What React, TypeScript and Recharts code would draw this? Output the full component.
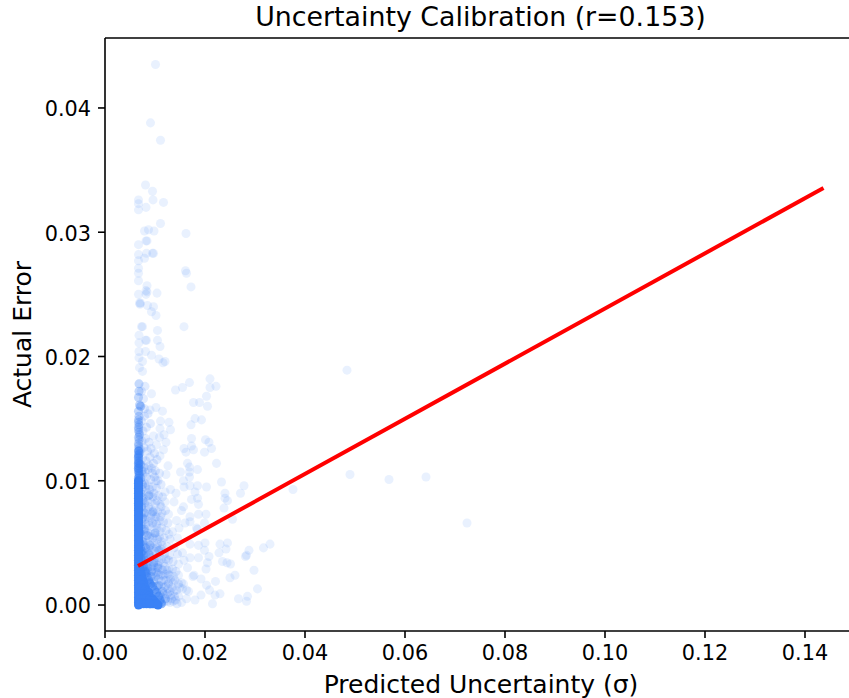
import { ScatterChart, Scatter, XAxis, YAxis, ZAxis, Label, ReferenceLine } from 'recharts'

type Pair = [number, number]

const xTicks = [0, 0.02, 0.04, 0.06, 0.08, 0.1, 0.12, 0.14]
const yTicks = [0, 0.01, 0.02, 0.03, 0.04]

// isolated points
const sparsePairs: Pair[] = [
  [.0101,.0435],[.0091,.0388],[.0111,.0374],[.0081,.0338],[.0095,.0333],[.0067,.0326],[.0067,.0323],[.0096,.0326],
  [.0117,.0324],[.0067,.0318],[.0082,.0320],[.0111,.0307],[.0087,.0302],[.0079,.0301],[.0098,.0301],[.0162,.0299],
  [.0082,.0293],[.0084,.0293],[.0067,.0290],[.0067,.0282],[.0083,.0283],[.0095,.0283],[.0097,.0283],[.0079,.0279],[.0067,.0277],
  [.0067,.0271],[.0067,.0267],[.0161,.0269],[.0163,.0267],[.0067,.0261],[.0084,.0257],[.0172,.0256],[.0067,.0250],
  [.0082,.0253],[.0082,.0250],[.0084,.0252],[.0104,.0251],[.0069,.0243],[.0071,.0243],[.0070,.0242],[.0085,.0241],[.0097,.0240],
  [.0093,.0236],[.0102,.0233],[.0073,.0224],[.0075,.0224],[.0158,.0224],[.0105,.0221],[.0068,.0217],[.0081,.0213],[.0083,.0213],
  [.0105,.0213],[.0068,.0211],[.0110,.0208],[.0068,.0204],[.0081,.0204],[.0093,.0201],[.0068,.0199],[.0108,.0198],
  [.0120,.0196],[.0116,.0195],[.0075,.0196],[.0069,.0191],[.0075,.0188],[.0210,.0182],[.0169,.0179],[.0155,.0175],[.0222,.0176],
  [.0210,.0175],[.0141,.0173],[.0203,.0168],[.0093,.0170],[.0177,.0163],[.0189,.0163],[.0205,.0160],[.0102,.0159],
  [.0115,.0156],[.0090,.0157],[.0180,.0150],[.0193,.0149],[.0111,.0148],[.0128,.0147],[.0172,.0145],[.0110,.0142],
  [.0131,.0141],[.0097,.0136],[.0118,.0137],[.0109,.0135],[.0173,.0134],[.0201,.0133],[.0208,.0131],[.0122,.0131],
  [.0173,.0128],[.0158,.0126],[.0177,.0125],[.0213,.0126],[.0162,.0123],[.0199,.0123],[.0103,.0129],[.0117,.0125],
  [.0110,.0120],[.0165,.0114],[.0223,.0114],[.0126,.0112],[.0185,.0109],[.0169,.0111],[.0151,.0107],[.0169,.0107],
  [.0122,.0105],[.0169,.0103],[.0157,.0100],[.0233,.0099],[.0278,.0096],[.0158,.0095],[.0170,.0096],[.0185,.0096],
  [.0203,.0095],[.0376,.0093],[.0120,.0091],[.0131,.0093],[.0142,.0090],[.0240,.0090],[.0271,.0090],[.0180,.0091],
  [.0240,.0086],[.0245,.0084],[.0185,.0086],[.0173,.0085],[.0120,.0083],[.0138,.0083],[.0187,.0081],[.0157,.0079],
  [.0238,.0078],[.0153,.0076],[.0127,.0073],[.0187,.0073],[.0170,.0071],[.0202,.0073],[.0255,.0069],[.0143,.0068],
  [.0160,.0066],[.0199,.0066],[.0170,.0067],[.0183,.0062],[.0185,.0061],[.0148,.0062],[.0135,.0059],[.0128,.0057],[.0110,.0059],
  [.0145,.0054],[.0170,.0049],[.0200,.0050],[.0230,.0049],[.0245,.0050],[.0330,.0049],[.0317,.0046],[.0187,.0048],
  [.0199,.0044],[.0242,.0045],[.0228,.0042],[.0288,.0044],[.0283,.0040],[.0281,.0039],[.0208,.0039],[.0155,.0042],
  [.0170,.0038],[.0187,.0038],[.0158,.0036],[.0235,.0035],[.0244,.0034],[.0251,.0033],[.0147,.0033],[.0205,.0034],
  [.0128,.0029],[.0298,.0028],[.0202,.0029],[.0165,.0030],[.0147,.0024],[.0176,.0023],[.0178,.0024],[.0137,.0023],[.0260,.0024],
  [.0250,.0022],[.0221,.0019],[.0192,.0021],[.0127,.0018],[.0157,.0017],[.0153,.0018],[.0203,.0016],[.0305,.0013],[.0150,.0014],
  [.0167,.0011],[.0163,.0012],[.0155,.0013],[.0209,.0012],[.0230,.0009],[.0220,.0008],[.0192,.0008],[.0285,.0007],[.0267,.0005],[.0283,.0003],
  [.0180,.0004],[.0215,.0001],[.0153,.0002],[.0130,.0002],[.0163,.0005],[.0484,.0189],[.0490,.0105],[.0568,.0101],
  [.0642,.0103],[.0724,.0066],
]

// the cloud right of the column, still single points but overlapping a lot
const cloudPairs: Pair[] = [
  [.0075,.0118],[.0082,.0116],[.0090,.0119],[.0097,.0114],[.0104,.0117],[.0078,.0111],[.0086,.0109],[.0093,.0110],
  [.0101,.0108],[.0109,.0106],[.0076,.0105],[.0083,.0103],[.0091,.0101],[.0099,.0103],[.0106,.0100],[.0112,.0097],
  [.0079,.0098],[.0087,.0096],[.0095,.0095],[.0103,.0094],[.0074,.0093],[.0082,.0091],[.0090,.0089],[.0098,.0090],
  [.0107,.0088],[.0115,.0087],[.0077,.0086],[.0085,.0084],[.0093,.0083],[.0101,.0082],[.0110,.0081],[.0074,.0080],
  [.0081,.0078],[.0089,.0077],[.0097,.0076],[.0105,.0075],[.0114,.0074],[.0121,.0076],[.0077,.0073],[.0084,.0071],
  [.0092,.0070],[.0100,.0069],[.0109,.0068],[.0117,.0067],[.0126,.0066],[.0074,.0067],[.0081,.0065],[.0088,.0064],
  [.0096,.0063],[.0104,.0062],[.0113,.0062],[.0122,.0060],[.0077,.0060],[.0085,.0058],[.0092,.0057],[.0101,.0056],
  [.0109,.0055],[.0118,.0054],[.0130,.0053],[.0074,.0054],[.0081,.0052],[.0089,.0051],[.0097,.0050],[.0105,.0049],
  [.0114,.0048],[.0124,.0047],[.0138,.0046],[.0077,.0047],[.0084,.0045],[.0092,.0044],[.0100,.0043],[.0110,.0042],
  [.0119,.0041],[.0129,.0040],[.0145,.0041],[.0076,.0041],[.0083,.0039],[.0091,.0038],[.0099,.0036],[.0108,.0035],
  [.0117,.0034],[.0127,.0036],[.0136,.0035],[.0086,.0033],[.0094,.0031],[.0103,.0030],[.0112,.0029],[.0120,.0031],
  [.0135,.0029],[.0142,.0027],[.0098,.0026],[.0107,.0025],[.0116,.0024],[.0126,.0025],[.0131,.0021],[.0122,.0020],
  [.0113,.0019],[.0140,.0020],[.0147,.0017],[.0118,.0014],[.0126,.0013],[.0134,.0014],[.0143,.0012],[.0122,.0008],
  [.0131,.0008],[.0139,.0007],[.0147,.0007],[.0125,.0003],[.0136,.0003],[.0144,.0001],
  [.0072,.0125],[.0078,.0127],[.0085,.0124],[.0092,.0126],[.0099,.0122],[.0074,.0132],[.0081,.0134],[.0088,.0131],
  [.0076,.0140],[.0083,.0143],[.0091,.0146],[.0073,.0148],[.0079,.0152],[.0086,.0154],[.0072,.0160],[.0079,.0158],
  [.0077,.0166],[.0073,.0172],[.0080,.0176],
  [.0072,.0113],[.0080,.0107],[.0088,.0112],[.0095,.0106],[.0102,.0100],[.0073,.0099],[.0081,.0095],[.0089,.0093],
  [.0096,.0087],[.0104,.0084],[.0112,.0079],[.0073,.0087],[.0079,.0082],[.0087,.0079],[.0094,.0073],[.0102,.0071],
  [.0111,.0071],[.0073,.0074],[.0080,.0069],[.0087,.0067],[.0095,.0066],[.0103,.0065],[.0073,.0062],[.0081,.0059],
  [.0089,.0055],[.0096,.0054],[.0105,.0053],[.0113,.0051],[.0074,.0051],[.0080,.0048],[.0088,.0046],[.0096,.0046],
  [.0103,.0046],[.0112,.0045],[.0075,.0043],[.0082,.0042],[.0089,.0040],[.0096,.0039],[.0104,.0038],[.0113,.0037],
  [.0122,.0037],[.0090,.0034],[.0098,.0032],[.0106,.0032],[.0115,.0028],[.0124,.0028],[.0095,.0029],[.0103,.0026],
  [.0111,.0024],[.0120,.0025],[.0129,.0024],[.0107,.0021],[.0117,.0020],[.0127,.0017],[.0136,.0018],[.0112,.0015],
  [.0121,.0015],[.0130,.0011],[.0138,.0011],[.0116,.0009],[.0125,.0009],[.0133,.0005],[.0141,.0004],[.0119,.0003],
]

// the edge of the column where overlaps build up but stay see-through
const densePairs: Pair[] = [
  [.0068,.0178],[.0068,.0172],[.0067,.0167],[.0069,.0161],[.0071,.0160],[.0067,.0156],[.0068,.0152],[.0067,.0149],
  [.0068,.0145],[.0067,.0141],[.0069,.0137],[.0068,.0133],[.0067,.0130],[.0068,.0126],[.0069,.0122],[.0067,.0118],
  [.0068,.0114],[.0067,.0110],[.0071,.0113],[.0074,.0108],[.0072,.0102],[.0075,.0097],[.0072,.0090],[.0076,.0084],
  [.0073,.0079],[.0079,.0074],[.0075,.0070],[.0072,.0064],[.0079,.0061],[.0084,.0056],[.0076,.0051],[.0081,.0046],
  [.0088,.0041],[.0079,.0036],[.0085,.0030],[.0093,.0027],[.0101,.0023],[.0107,.0016],[.0115,.0011],[.0121,.0005],
  [.0098,.0034],[.0106,.0030],[.0090,.0048],[.0100,.0058],[.0108,.0044],[.0088,.0088],[.0096,.0075],[.0112,.0002],
  [.0074,.0043],[.0078,.0040],[.0082,.0033],[.0086,.0027],[.0092,.0023],[.0098,.0019],[.0104,.0015],[.0110,.0008],
  [.0067,.0147],[.0067,.0143],[.0068,.0139],[.0067,.0135],[.0067,.0128],[.0068,.0124],
]

// top of the solid column and rim of the solid foot, nearly opaque but not quite
const fadePairs: Pair[] = [
  [.0067,.0124],[.0067,.0121],[.0067,.0119],[.0067,.0116],[.0067,.0114],[.0067,.0112],[.0067,.0110],[.0067,.0108],
  [.0068,.0106],[.0068,.0104],[.0067,.0102],[.0070,.0058],[.0070,.0050],[.0071,.0046],[.0072,.0042],
  [.0074,.0036],[.0077,.0031],[.0080,.0027],[.0084,.0023],[.0087,.0020],[.0091,.0017],[.0095,.0015],[.0099,.0012],
  [.0103,.0010],[.0107,.0007],[.0110,.0004],[.0113,.0001],[.0072,.0038],[.0076,.0029],[.0082,.0026],[.0089,.0018],
]

// opaque part: everything overlaps until nothing shows through
const corePairs: Pair[] = [
  [.0067,.0100],[.0067,.0098],[.0067,.0096],[.0067,.0094],[.0067,.0092],[.0067,.0090],[.0067,.0088],[.0067,.0086],
  [.0067,.0084],[.0067,.0082],[.0067,.0080],[.0067,.0078],[.0067,.0076],[.0067,.0074],[.0067,.0072],[.0067,.0070],
  [.0067,.0068],[.0067,.0066],[.0067,.0064],[.0067,.0062],[.0067,.0060],[.0067,.0058],[.0067,.0056],[.0067,.0054],
  [.0067,.0052],[.0067,.0050],[.0067,.0048],[.0067,.0046],[.0067,.0044],[.0067,.0042],[.0067,.0040],[.0067,.0038],
  [.0067,.0036],[.0067,.0034],[.0067,.0032],[.0067,.0030],[.0067,.0028],[.0067,.0026],[.0067,.0024],[.0067,.0022],
  [.0067,.0020],[.0067,.0018],[.0067,.0016],[.0067,.0014],[.0067,.0012],[.0067,.0010],[.0067,.0008],[.0067,.0006],
  [.0067,.0004],[.0067,.0002],[.0067,.0000],
  [.0069,.0032],[.0071,.0028],[.0073,.0024],[.0075,.0021],[.0078,.0018],[.0071,.0020],[.0074,.0016],[.0081,.0014],
  [.0071,.0014],[.0075,.0013],[.0079,.0012],[.0084,.0011],[.0088,.0010],[.0071,.0009],[.0075,.0009],[.0079,.0009],
  [.0083,.0008],[.0087,.0007],[.0091,.0006],[.0095,.0005],[.0071,.0005],[.0075,.0005],[.0079,.0005],[.0083,.0005],
  [.0087,.0004],[.0091,.0003],[.0095,.0003],[.0099,.0003],[.0071,.0002],[.0075,.0002],[.0079,.0002],[.0083,.0002],
  [.0087,.0002],[.0091,.0001],[.0095,.0001],[.0099,.0001],[.0103,.0001],[.0071,.0001],[.0077,.0001],[.0083,.0001],
  [.0089,.0001],[.0106,.0000],
]

const fitPairs: Pair[] = [[.0066,.00314],[.1437,.03356]]

const toPoints = (pairs: Pair[]) => pairs.map(([x, y]) => ({ x, y }))

const FONT = '"DejaVu Sans", sans-serif'
const BLUE = '#3b82f6'
const Y_TOP = 0.04563
const tick = { fill: '#000', fontSize: 20.8, fontFamily: FONT }
const axisLine = { stroke: '#000', strokeWidth: 1.6 }
const tickLine = { stroke: '#000', strokeWidth: 1.6 }

export default function App() {
  return (
    <div style={{ position: 'absolute', left: 0, top: 0, width: 849, height: 698 }}>
      <div
        style={{
          position: 'absolute', left: 0, width: 961, top: 0, textAlign: 'center',
          fontFamily: FONT, fontSize: 26.8, lineHeight: '33px', color: '#000',
        }}
      >
        Uncertainty Calibration (r=0.153)
      </div>
      <ScatterChart width={849} height={698} margin={{ top: 38, right: 0, bottom: 27, left: 25 }}>
        <XAxis
          type="number" dataKey="x" domain={[0, 0.1488]} ticks={xTicks} allowDataOverflow
          tickFormatter={(v: number) => v.toFixed(2)} tick={tick} axisLine={axisLine} tickLine={tickLine}
          tickSize={7} tickMargin={7} height={40} interval={0}
        >
          <Label value="Predicted Uncertainty (σ)" position="insideBottom" offset={-22}
            style={{ fill: '#000', fontSize: 25, fontFamily: FONT }} dx={4} />
        </XAxis>
        <YAxis
          type="number" dataKey="y" domain={[-0.00209, Y_TOP]} ticks={yTicks} allowDataOverflow
          tickFormatter={(v: number) => v.toFixed(2)} tick={{ ...tick, dy: 1 }} axisLine={axisLine} tickLine={tickLine}
          tickSize={7} tickMargin={7} width={80} interval={0}
        >
          <Label value="Actual Error" angle={-90} position="insideLeft" offset={-3}
            style={{ fill: '#000', fontSize: 25, fontFamily: FONT, textAnchor: 'middle' }} />
        </YAxis>
        <ZAxis range={[34, 34]} />
        <ReferenceLine y={Y_TOP} stroke="#000" strokeWidth={1.6} />
        <Scatter data={toPoints(sparsePairs)} fill={BLUE} fillOpacity={0.11} stroke="none" isAnimationActive={false} />
        <Scatter data={toPoints(cloudPairs)} fill={BLUE} fillOpacity={0.15} stroke="none" isAnimationActive={false} />
        <Scatter data={toPoints(densePairs)} fill={BLUE} fillOpacity={0.3} stroke="none" isAnimationActive={false} />
        <Scatter data={toPoints(fadePairs)} fill={BLUE} fillOpacity={0.55} stroke="none" isAnimationActive={false} />
        <Scatter data={toPoints(corePairs)} fill={BLUE} fillOpacity={1} stroke="none" isAnimationActive={false} />
        <Scatter
          data={toPoints(fitPairs)} line={{ stroke: '#ff0000', strokeWidth: 4 }} shape={() => <g />}
          isAnimationActive={false}
        />
      </ScatterChart>
    </div>
  )
}
